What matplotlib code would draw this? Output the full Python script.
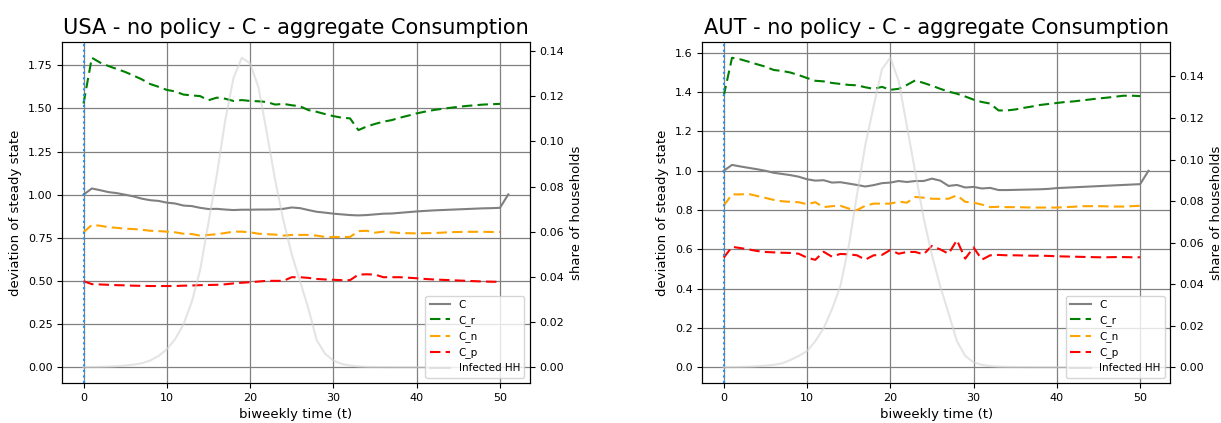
import matplotlib
matplotlib.use('Agg')
import matplotlib.pyplot as plt
import numpy as np

# biweekly time
t_c = np.arange(0, 52)
t_s = np.arange(0, 51)

# USA
usa_C = [1.000, 1.036, 1.026, 1.015, 1.009, 1.000, 0.990, 0.977, 0.968, 0.964,
         0.954, 0.949, 0.937, 0.934, 0.924, 0.917, 0.918, 0.914, 0.911, 0.913,
         0.913, 0.914, 0.914, 0.915, 0.918, 0.926, 0.922, 0.911, 0.901, 0.896,
         0.890, 0.886, 0.882, 0.880, 0.882, 0.886, 0.890, 0.891, 0.895, 0.899,
         0.903, 0.906, 0.909, 0.911, 0.913, 0.915, 0.917, 0.919, 0.921, 0.922,
         0.924, 1.002]
usa_Cr = [1.528, 1.793, 1.765, 1.745, 1.728, 1.711, 1.690, 1.668, 1.641, 1.625,
          1.607, 1.598, 1.580, 1.575, 1.571, 1.547, 1.562, 1.556, 1.543, 1.548,
          1.543, 1.541, 1.537, 1.522, 1.526, 1.518, 1.512, 1.490, 1.480, 1.467,
          1.455, 1.446, 1.442, 1.374, 1.395, 1.410, 1.423, 1.432, 1.446, 1.458,
          1.471, 1.481, 1.490, 1.497, 1.503, 1.509, 1.514, 1.518, 1.522, 1.524,
          1.526]
usa_Cn = [0.782, 0.825, 0.820, 0.812, 0.808, 0.803, 0.801, 0.797, 0.791, 0.789,
          0.786, 0.782, 0.774, 0.772, 0.763, 0.767, 0.771, 0.778, 0.786, 0.786,
          0.782, 0.774, 0.771, 0.769, 0.763, 0.767, 0.767, 0.767, 0.763, 0.755,
          0.755, 0.755, 0.755, 0.789, 0.791, 0.780, 0.786, 0.782, 0.778, 0.777,
          0.776, 0.777, 0.778, 0.780, 0.783, 0.784, 0.785, 0.785, 0.785, 0.784,
          0.784]
usa_Cp = [0.499, 0.482, 0.480, 0.478, 0.476, 0.475, 0.473, 0.472, 0.471, 0.471,
          0.471, 0.471, 0.473, 0.474, 0.476, 0.477, 0.478, 0.481, 0.486, 0.490,
          0.493, 0.497, 0.501, 0.501, 0.501, 0.522, 0.522, 0.518, 0.512, 0.509,
          0.507, 0.505, 0.505, 0.537, 0.539, 0.537, 0.522, 0.522, 0.522, 0.519,
          0.516, 0.512, 0.509, 0.507, 0.505, 0.503, 0.501, 0.499, 0.497, 0.496,
          0.495]
usa_inf = [0.0000, 0.0001, 0.0002, 0.0003, 0.0005, 0.0008, 0.0012, 0.0018, 0.0030, 0.0050,
           0.0080, 0.0125, 0.0190, 0.0290, 0.0430, 0.0640, 0.0850, 0.1090, 0.1280, 0.1370,
           0.1345, 0.1240, 0.1040, 0.0830, 0.0650, 0.0500, 0.0380, 0.0260, 0.0120, 0.0060,
           0.0030, 0.0015, 0.0008, 0.0004, 0.0002, 0.0001, 0.0001, 0.0000, 0.0000, 0.0000,
           0.0000, 0.0000, 0.0000, 0.0000, 0.0000, 0.0000, 0.0000, 0.0000, 0.0000, 0.0000,
           0.0000]

# AUT
aut_C = [1.000, 1.030, 1.022, 1.015, 1.008, 1.000, 0.990, 0.984, 0.978, 0.970,
         0.957, 0.950, 0.952, 0.940, 0.942, 0.935, 0.928, 0.920, 0.927, 0.937,
         0.940, 0.948, 0.943, 0.948, 0.948, 0.960, 0.950, 0.923, 0.928, 0.915,
         0.918, 0.910, 0.913, 0.902, 0.902, 0.903, 0.904, 0.905, 0.906, 0.908,
         0.912, 0.914, 0.916, 0.918, 0.920, 0.922, 0.924, 0.926, 0.928, 0.930,
         0.932, 1.000]
aut_Cr = [1.380, 1.575, 1.567, 1.555, 1.542, 1.530, 1.513, 1.508, 1.500, 1.487,
          1.472, 1.458, 1.455, 1.447, 1.442, 1.437, 1.435, 1.425, 1.417, 1.427,
          1.412, 1.417, 1.437, 1.460, 1.447, 1.433, 1.417, 1.403, 1.392, 1.378,
          1.362, 1.350, 1.342, 1.307, 1.307, 1.312, 1.320, 1.327, 1.335, 1.340,
          1.345, 1.350, 1.353, 1.358, 1.363, 1.368, 1.372, 1.377, 1.382, 1.382,
          1.380]
aut_Cn = [0.822, 0.880, 0.880, 0.882, 0.872, 0.862, 0.852, 0.845, 0.842, 0.840,
          0.830, 0.840, 0.815, 0.820, 0.822, 0.808, 0.800, 0.822, 0.833, 0.833,
          0.833, 0.843, 0.838, 0.867, 0.863, 0.858, 0.857, 0.858, 0.875, 0.842,
          0.838, 0.828, 0.815, 0.817, 0.815, 0.815, 0.814, 0.813, 0.813, 0.813,
          0.813, 0.815, 0.817, 0.820, 0.820, 0.820, 0.819, 0.818, 0.818, 0.820,
          0.822]
aut_Cp = [0.558, 0.613, 0.607, 0.600, 0.592, 0.587, 0.585, 0.583, 0.582, 0.578,
          0.558, 0.547, 0.588, 0.563, 0.577, 0.575, 0.570, 0.548, 0.570, 0.572,
          0.597, 0.578, 0.587, 0.587, 0.575, 0.618, 0.600, 0.578, 0.647, 0.553,
          0.610, 0.548, 0.570, 0.572, 0.570, 0.570, 0.569, 0.568, 0.568, 0.567,
          0.565, 0.564, 0.563, 0.562, 0.561, 0.560, 0.560, 0.561, 0.561, 0.560,
          0.560]
aut_inf = [0.0000, 0.0001, 0.0002, 0.0003, 0.0005, 0.0008, 0.0012, 0.0019, 0.0035, 0.0055,
           0.0078, 0.0126, 0.0188, 0.0280, 0.0390, 0.0580, 0.0830, 0.1070, 0.1256, 0.1435,
           0.1490, 0.1380, 0.1160, 0.0940, 0.0720, 0.0540, 0.0390, 0.0260, 0.0126, 0.0055,
           0.0024, 0.0012, 0.0006, 0.0003, 0.0002, 0.0001, 0.0001, 0.0000, 0.0000, 0.0000,
           0.0000, 0.0000, 0.0000, 0.0000, 0.0000, 0.0000, 0.0000, 0.0000, 0.0000, 0.0000,
           0.0000]

countries = ['USA', 'AUT']
series = {'USA': (usa_C, usa_Cr, usa_Cn, usa_Cp, usa_inf),
          'AUT': (aut_C, aut_Cr, aut_Cn, aut_Cp, aut_inf)}

plt.rcParams['font.family'] = 'DejaVu Sans'
fig, axes = plt.subplots(1, 2, figsize=(12.21, 4.23), dpi=100)
fig.subplots_adjust(left=0.051, right=0.958, bottom=0.095, top=0.90, wspace=0.37)

dash = (5, 2.5)


def panel(ax, name):
    C, Cr, Cn, Cp, inf = series[name]
    l1, = ax.plot(t_c, C, color='gray', lw=1.5, label='C')
    l2, = ax.plot(t_s, Cr, color='green', ls='--', dashes=dash, lw=1.5, label='C_r')
    l3, = ax.plot(t_s, Cn, color='orange', ls='--', dashes=dash, lw=1.5, label='C_n')
    l4, = ax.plot(t_s, Cp, color='red', ls='--', dashes=dash, lw=1.5, label='C_p')
    ax.axvline(0, color='dodgerblue', ls=':', lw=1.5)
    ax.grid(True, color='gray', lw=0.9)
    ax.set_axisbelow(True)
    top = max(max(Cr), max(C))
    ax.set_ylim(-0.05 * top, 1.05 * top)
    ax.set_xlim(-2.55, 53.55)
    ax.set_title(f'{name} - no policy - C - aggregate Consumption', fontsize=15)
    ax.set_xlabel('biweekly time (t)', fontsize=9.5)
    ax.set_ylabel('deviation of steady state', fontsize=9.5)
    ax.tick_params(labelsize=8)

    ax2 = ax.twinx()
    l5, = ax2.plot(t_s, inf, color='lightgray', alpha=0.6, lw=1.5, label='Infected HH')
    ax2.set_ylim(-0.05 * max(inf), 1.05 * max(inf))
    ax2.set_ylabel('share of households', fontsize=9.5)
    ax2.tick_params(labelsize=8)
    ax2.legend([l1, l2, l3, l4, l5], ['C', 'C_r', 'C_n', 'C_p', 'Infected HH'],
               loc='lower right', fontsize=7.5)


for ax, name in zip(axes, countries):
    panel(ax, name)

plt.savefig('out.png', dpi=100)
